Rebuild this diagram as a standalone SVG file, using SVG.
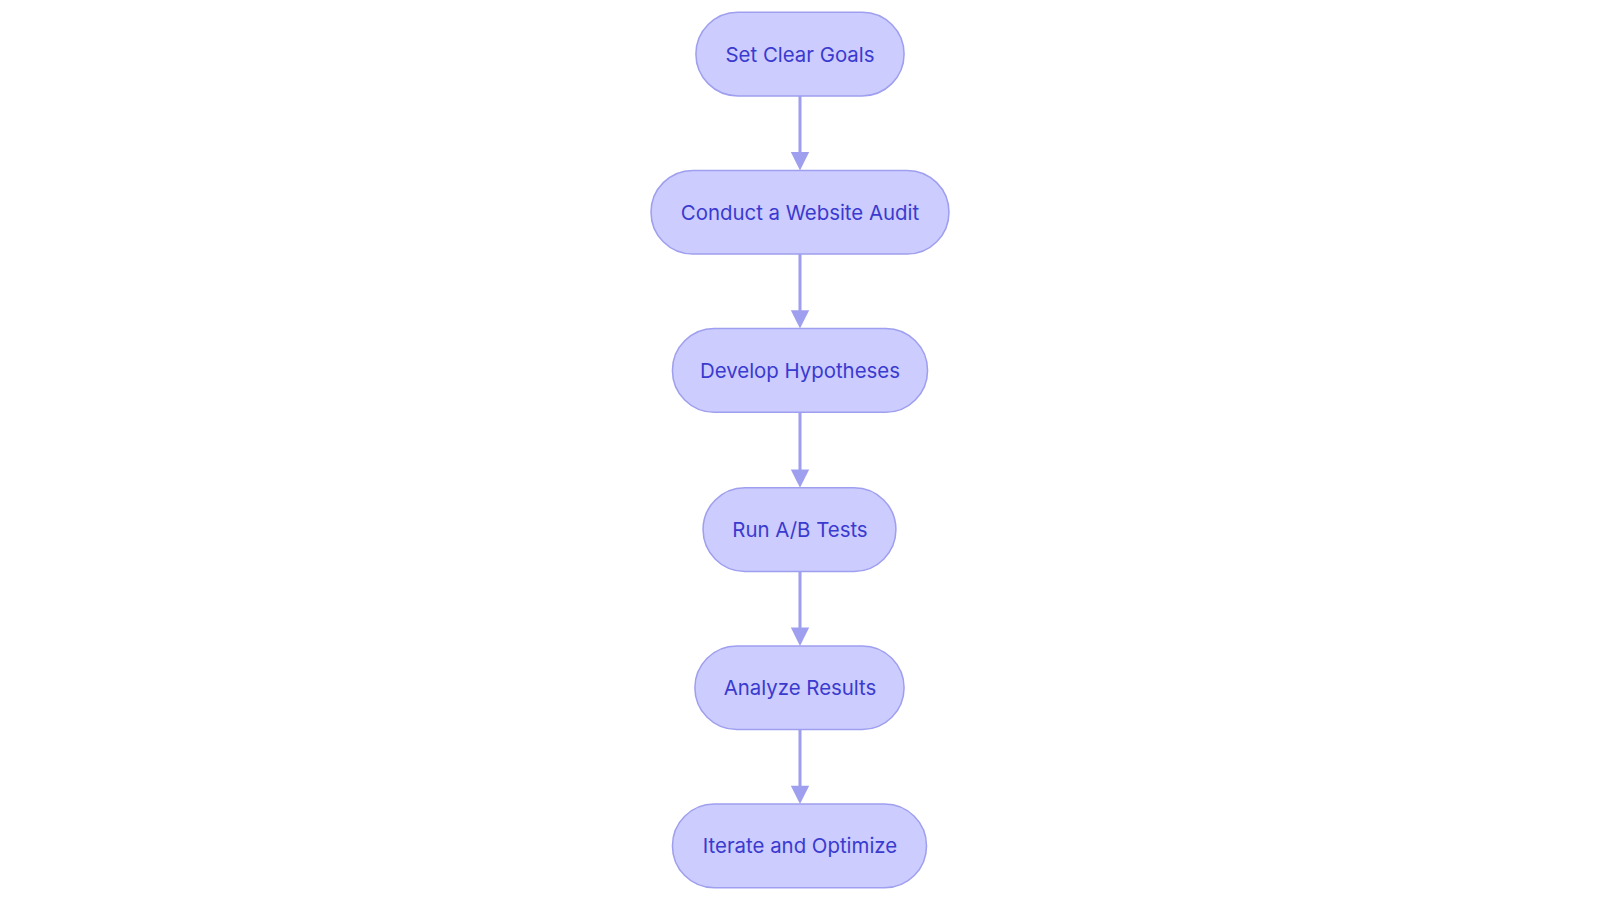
<svg xmlns="http://www.w3.org/2000/svg" width="1600" height="903" viewBox="0 0 1600 903">
<style>
.n rect{fill:#ccccff;stroke:#9f9fef;stroke-width:1.5}
.n text{font-family:Inter,"Noto Sans",sans-serif;font-size:20px;fill:#3a3acf;text-anchor:middle;dominant-baseline:central}
.e path{stroke:#9f9fef;stroke-width:3;fill:none}
.e polygon{fill:#9f9fef}
</style>
<rect width="1600" height="903" fill="#fff"/>
<g transform="scale(1.0204)">
<g class="e">
<path d="M784,94V150"/><polygon points="775,149 793,149 784,167"/>
<path d="M784,249V305"/><polygon points="775,304 793,304 784,322"/>
<path d="M784,404V461"/><polygon points="775,460 793,460 784,478"/>
<path d="M784,560V616"/><polygon points="775,615 793,615 784,633"/>
<path d="M784,715V771"/><polygon points="775,770 793,770 784,788"/>
</g>
<g id="n1" class="n"><rect x="682" y="12" width="204" height="82" rx="41"/><text x="784" y="53">Set Clear Goals</text></g>
<g id="n2" class="n"><rect x="638" y="167" width="292" height="82" rx="41"/><text x="784" y="208">Conduct a Website Audit</text></g>
<g id="n3" class="n"><rect x="659" y="322" width="250" height="82" rx="41"/><text x="784" y="363">Develop Hypotheses</text></g>
<g id="n4" class="n"><rect x="689" y="478" width="189" height="82" rx="41"/><text x="784" y="519">Run A/B Tests</text></g>
<g id="n5" class="n"><rect x="681" y="633" width="205" height="82" rx="41"/><text x="784" y="674">Analyze Results</text></g>
<g id="n6" class="n"><rect x="659" y="788" width="249" height="82" rx="41"/><text x="784" y="829">Iterate and Optimize</text></g>
</g>
</svg>
